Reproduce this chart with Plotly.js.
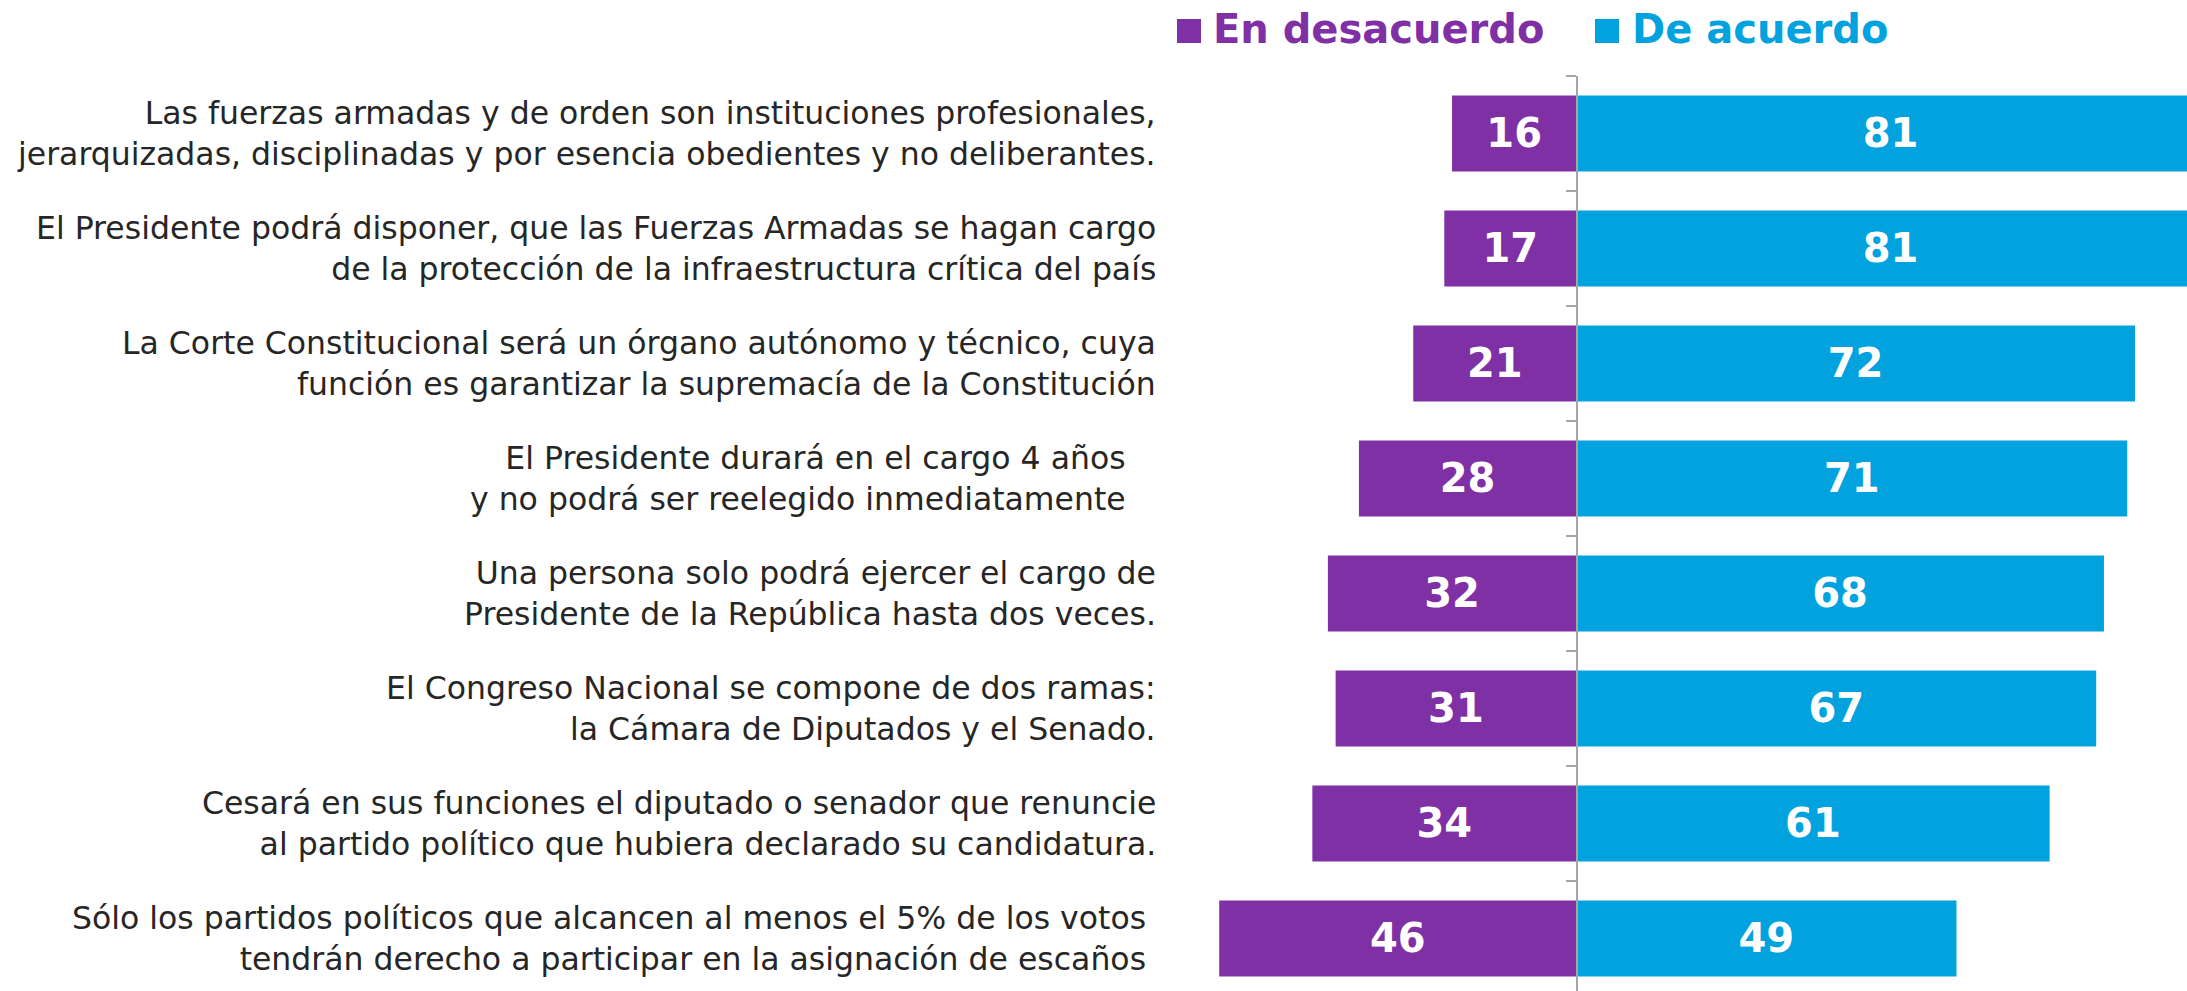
<!DOCTYPE html>
<html>
<head>
<meta charset="utf-8">
<script src="https://cdn.plot.ly/plotly-3.0.1.min.js"></script>
<style>
  html, body { margin: 0; padding: 0; background: #ffffff; }
  #chart { width: 2187px; height: 991px; }
</style>
</head>
<body>
<div id="chart"></div>
<script>
// ---- data ----
var statements = [
  "Las fuerzas armadas y de orden son instituciones profesionales,<br>jerarquizadas, disciplinadas y por esencia obedientes y no deliberantes.",
  "El Presidente podrá disponer, que las Fuerzas Armadas se hagan cargo<br>de la protección de la infraestructura crítica del país",
  "La Corte Constitucional será un órgano autónomo y técnico, cuya<br>función es garantizar la supremacía de la Constitución",
  "El Presidente durará en el cargo 4 años\u00a0\u00a0\u00a0<br>y no podrá ser reelegido inmediatamente\u00a0\u00a0\u00a0",
  "Una persona solo podrá ejercer el cargo de<br>Presidente de la República hasta dos veces.",
  "El Congreso Nacional se compone de dos ramas:<br>la Cámara de Diputados y el Senado.",
  "Cesará en sus funciones el diputado o senador que renuncie<br>al partido político que hubiera declarado su candidatura.",
  "Sólo los partidos políticos que alcancen al menos el 5% de los votos\u00a0<br>tendrán derecho a participar en la asignación de escaños\u00a0"
];
var enDesacuerdo = [16, 17, 21, 28, 32, 31, 34, 46];
var deAcuerdo    = [81, 81, 72, 71, 68, 67, 61, 49];
var seriesNames  = ["En desacuerdo", "De acuerdo"];

// ---- styling ----
var W = 2187, H = 991, T = 76, B = 0;
var PURPLE = "#7F30A5", BLUE = "#02A2DF";
var xMin = -203.1, xMax = 78.7;
function px(x) { return x / W; }
function py(y) { return (H - B - y) / (H - T - B); }

var traces = [
  {
    type: "bar", orientation: "h", name: seriesNames[0],
    y: statements, x: enDesacuerdo.map(function (v) { return -v; }),
    text: enDesacuerdo.map(String), texttemplate: "%{text}",
    textposition: "inside", insidetextanchor: "middle", textangle: 0,
    insidetextfont: { family: "DejaVu Sans", size: 40, color: "#ffffff", weight: "bold" },
    marker: { color: PURPLE, line: { width: 0 } },
    hoverinfo: "skip", showlegend: false, cliponaxis: true
  },
  {
    type: "bar", orientation: "h", name: seriesNames[1],
    y: statements, x: deAcuerdo,
    text: deAcuerdo.map(String), texttemplate: "%{text}",
    textposition: "inside", insidetextanchor: "middle", textangle: 0,
    insidetextfont: { family: "DejaVu Sans", size: 40, color: "#ffffff", weight: "bold" },
    marker: { color: BLUE, line: { width: 0 } },
    hoverinfo: "skip", showlegend: false, cliponaxis: true
  }
];

var annotations = statements.map(function (s) {
  return {
    xref: "paper", yref: "y", x: px(1158), y: s,
    xanchor: "right", yanchor: "middle", align: "right",
    text: s, showarrow: false,
    font: { family: "DejaVu Sans", size: 31.5, color: "#262626" }
  };
});

// legend drawn as text
annotations.push({
  xref: "paper", yref: "paper", x: px(1211), y: py(29), xanchor: "left", yanchor: "middle",
  text: seriesNames[0], showarrow: false,
  font: { family: "DejaVu Sans", size: 40, color: PURPLE, weight: "bold" }
});
annotations.push({
  xref: "paper", yref: "paper", x: px(1630), y: py(29), xanchor: "left", yanchor: "middle",
  text: seriesNames[1], showarrow: false,
  font: { family: "DejaVu Sans", size: 40, color: BLUE, weight: "bold" }
});

var shapes = [
  { type: "rect", xref: "paper", yref: "paper", x0: px(1177), x1: px(1201), y0: py(43), y1: py(19),
    fillcolor: PURPLE, line: { width: 0 } },
  { type: "rect", xref: "paper", yref: "paper", x0: px(1595), x1: px(1619), y0: py(43), y1: py(19),
    fillcolor: BLUE, line: { width: 0 } }
];

var layout = {
  width: W, height: H,
  margin: { l: 0, r: 0, t: T, b: B, pad: 0 },
  paper_bgcolor: "#ffffff", plot_bgcolor: "#ffffff",
  barmode: "relative", bargap: 0.34,
  showlegend: false,
  xaxis: {
    range: [xMin, xMax], visible: false, fixedrange: true
  },
  yaxis: {
    type: "category", categoryorder: "array", categoryarray: statements,
    range: [7.457, -0.5],
    anchor: "free", position: (0 - xMin) / (xMax - xMin),
    showline: true, linecolor: "#a6a6a6", linewidth: 1.3,
    ticks: "outside", tickson: "boundaries", ticklen: 10, tickcolor: "#a6a6a6", tickwidth: 1.3,
    showticklabels: false, showgrid: false, zeroline: false, fixedrange: true
  },
  annotations: annotations,
  shapes: shapes
};

Plotly.newPlot("chart", traces, layout, { displayModeBar: false, staticPlot: true });
</script>
</body>
</html>
